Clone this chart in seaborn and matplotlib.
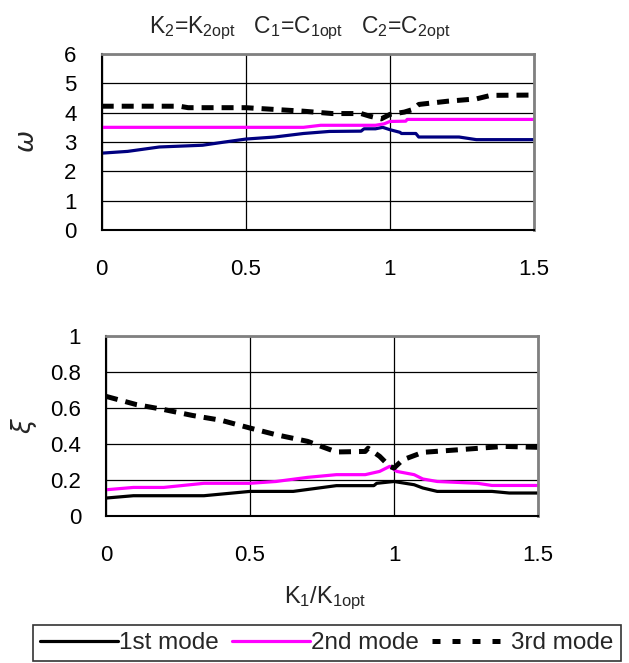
import matplotlib
matplotlib.use("Agg")
import matplotlib.pyplot as plt
import seaborn as sns
import pandas as pd
from matplotlib.lines import Line2D

sns.set_theme(style="white")
plt.rcParams['font.family'] = ['Liberation Sans', 'DejaVu Sans']
plt.rcParams['mathtext.default'] = 'regular'

# ---- data: omega (top panel) ----
w1_x = [0.0, 0.09, 0.2, 0.35, 0.42, 0.5, 0.6, 0.7, 0.79, 0.9, 0.91, 0.95, 0.975, 1.0, 1.035, 1.04, 1.09, 1.1, 1.24, 1.3, 1.5]
w1_y = [2.62, 2.68, 2.83, 2.89, 2.99, 3.1, 3.17, 3.29, 3.36, 3.37, 3.45, 3.45, 3.5, 3.42, 3.33, 3.29, 3.29, 3.17, 3.17, 3.08, 3.08]
w2_x = [0.0, 0.7, 0.76, 0.95, 0.98, 1.0, 1.055, 1.06, 1.5]
w2_y = [3.5, 3.5, 3.57, 3.57, 3.62, 3.70, 3.71, 3.77, 3.77]
w3_x = [0.0, 0.27, 0.3, 0.5, 0.6, 0.7, 0.8, 0.9, 0.93, 0.97, 1.0, 1.05, 1.08, 1.1, 1.2, 1.3, 1.35, 1.5]
w3_y = [4.22, 4.22, 4.17, 4.17, 4.11, 4.05, 3.97, 3.97, 3.88, 3.79, 3.94, 4.02, 4.11, 4.28, 4.39, 4.47, 4.59, 4.6]

# ---- data: xi (bottom panel) ----
x1_x = [0.0, 0.095, 0.34, 0.5, 0.65, 0.8, 0.93, 0.94, 1.0, 1.07, 1.1, 1.15, 1.34, 1.4, 1.5]
x1_y = [0.098, 0.111, 0.111, 0.135, 0.135, 0.167, 0.167, 0.18, 0.19, 0.172, 0.154, 0.135, 0.135, 0.126, 0.126]
x2_x = [0.0, 0.095, 0.2, 0.34, 0.5, 0.59, 0.7, 0.8, 0.9, 0.95, 0.985, 1.01, 1.07, 1.1, 1.15, 1.29, 1.34, 1.5]
x2_y = [0.144, 0.157, 0.157, 0.18, 0.18, 0.19, 0.213, 0.228, 0.228, 0.246, 0.274, 0.246, 0.228, 0.204, 0.19, 0.18, 0.168, 0.168]
x3_x = [0.0, 0.106, 0.2, 0.3, 0.4, 0.5, 0.59, 0.7, 0.8, 0.9, 0.91, 0.95, 0.985, 1.0, 1.03, 1.1, 1.23, 1.38, 1.5]
x3_y = [0.663, 0.617, 0.59, 0.557, 0.53, 0.487, 0.45, 0.413, 0.354, 0.357, 0.375, 0.33, 0.274, 0.265, 0.31, 0.352, 0.367, 0.385, 0.38]

mode_labels = ["1st mode", "2nd mode", "3rd mode"]
x_ticks = [0, 0.5, 1, 1.5]
x_tick_labels = ["0", "0.5", "1", "1.5"]
w_ticks = [0, 1, 2, 3, 4, 5, 6]
xi_ticks = [0, 0.2, 0.4, 0.6, 0.8, 1.0]
xi_tick_labels = ["0", "0.2", "0.4", "0.6", "0.8", "1"]

W, H = 629, 663
fig = plt.figure(figsize=(W / 100, H / 100), dpi=100)
ax1 = fig.add_axes([101.7 / W, 1 - 230 / H, (534 - 101.7) / W, (230 - 54) / H])
ax2 = fig.add_axes([106 / W, 1 - 515.7 / H, (538 - 106) / W, (515.7 - 335.7) / H])

FS = 16
lw_solid = 2.3
lw_dash = 3.6
dash = (2.4, 1.6)

def draw(ax, xs, ys, color, dashed):
    df = pd.DataFrame({"x": xs, "y": ys})
    sns.lineplot(data=df, x="x", y="y", ax=ax, color=color, sort=False,
                 estimator=None, linewidth=lw_dash if dashed else lw_solid,
                 dashes=False, legend=False)
    if dashed:
        ax.lines[-1].set_dashes(dash)
    ax.lines[-1].set_solid_capstyle('butt')
    ax.lines[-1].set_dash_capstyle('butt')

draw(ax1, w1_x, w1_y, "#000080", False)
draw(ax1, w2_x, w2_y, "#ff00ff", False)
draw(ax1, w3_x, w3_y, "black", True)

draw(ax2, x1_x, x1_y, "black", False)
draw(ax2, x2_x, x2_y, "#ff00ff", False)
draw(ax2, x3_x, x3_y, "black", True)

for ax, yt, ytl, ylim in [(ax1, w_ticks, [str(t) for t in w_ticks], (0, 6)),
                          (ax2, xi_ticks, xi_tick_labels, (0, 1))]:
    ax.set_xlim(0, 1.5)
    ax.set_ylim(*ylim)
    ax.set_xticks(x_ticks)
    ax.set_xticklabels(x_tick_labels, fontsize=FS)
    ax.set_yticks(yt)
    ax.set_yticklabels(ytl, fontsize=FS)
    ax.grid(True, color="black", linewidth=0.9)
    ax.set_axisbelow(True)
    for s in ["left", "bottom"]:
        ax.spines[s].set_color("black")
        ax.spines[s].set_linewidth(1.5)
    for s in ["top", "right"]:
        ax.spines[s].set_color("#808080")
        ax.spines[s].set_linewidth(2.0)
    ax.tick_params(axis="x", length=0, pad=21, colors="black")
    ax.tick_params(axis="y", length=0, pad=18, colors="black")
    ax.set_xlabel("")
    ax.set_ylabel("")

ax1.set_ylabel(r"$\mathit{\omega}$", fontsize=19)
ax2.set_ylabel(r"$\mathit{\xi}$", fontsize=19)
ax1.yaxis.set_label_coords((39 - 101.7) / (534 - 101.7), 0.5)
ax2.yaxis.set_label_coords((39 - 106) / (538 - 106), 0.5)

fig.text(300 / W, 1 - 28 / H, r"K$_2$=K$_{2opt}$   C$_1$=C$_{1opt}$   C$_2$=C$_{2opt}$",
         ha="center", va="center", fontsize=16.5)
fig.text(325 / W, 1 - 598 / H, r"K$_1$/K$_{1opt}$", ha="center", va="center", fontsize=17)

handles = [Line2D([], [], color="black", lw=lw_solid),
           Line2D([], [], color="#ff00ff", lw=lw_solid),
           Line2D([], [], color="black", lw=lw_dash, dashes=(1.6, 2.4))]
leg = fig.legend(handles, mode_labels, loc="center", ncol=3,
                 bbox_to_anchor=(327 / W, 1 - 643 / H), fontsize=17.5,
                 frameon=True, fancybox=False, edgecolor="black",
                 handlelength=3.2, handletextpad=0.05, columnspacing=0.55,
                 borderpad=0.3, borderaxespad=0)
leg.get_frame().set_linewidth(1.2)

fig.savefig("out.png", dpi=100, facecolor="white")
